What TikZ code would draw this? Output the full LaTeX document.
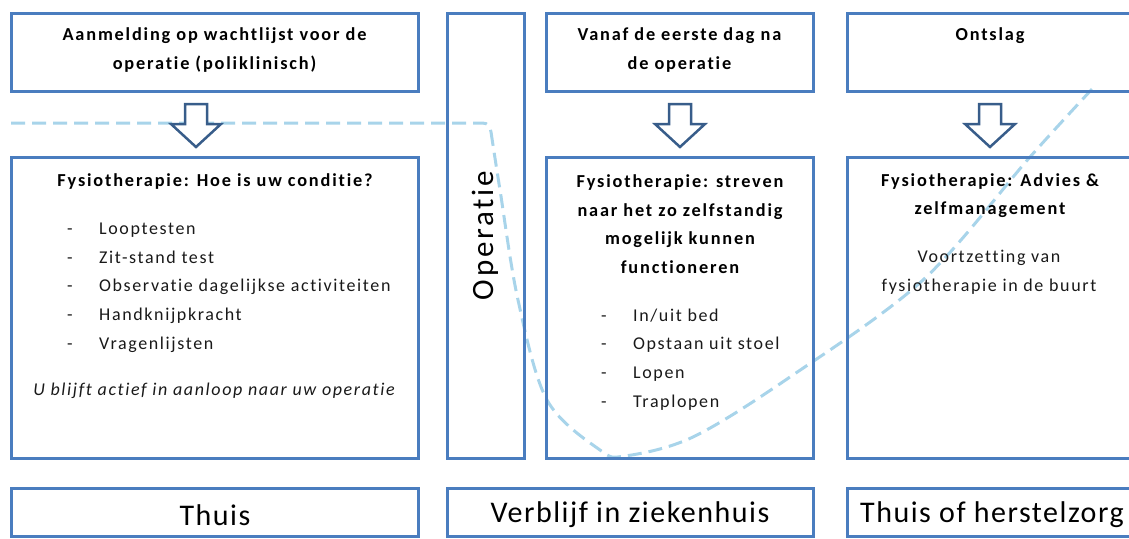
\documentclass[tikz,border=0pt]{standalone}
\usepackage{fontspec}
\setmainfont{Carlito}[Ligatures=NoCommon,Contextuals=NoAlternate,LetterSpace=9,
  BoldFeatures={LetterSpace=10}]
\newfontfamily\plekfont{Carlito}[Ligatures=NoCommon,Contextuals=NoAlternate,LetterSpace=5]
\usepackage{tikz}
\usetikzlibrary{calc}
\definecolor{BoxC}{HTML}{4A7DBF}
\definecolor{PijlC}{HTML}{385D8A}
\definecolor{LijnC}{HTML}{A8D4EA}

\begin{document}
\begin{tikzpicture}[x=1pt,y=-1pt,
  vak/.style={draw=BoxC,line width=3pt,inner sep=0pt},
  kop/.style={font=\fontsize{18.3}{28.7}\selectfont\bfseries,align=center,inner sep=0pt},
  tekst/.style={font=\fontsize{18}{28.7}\selectfont,color=black!90,inner sep=0pt},
  plek/.style={font=\plekfont\fontsize{30}{32}\selectfont,inner sep=0pt},
  pijl/.style={draw=PijlC,fill=white,line width=2.5pt,line join=miter},
  curve/.style={draw=LijnC,line width=3pt,dash pattern=on 14pt off 7pt}]
\useasboundingbox (0,0) rectangle (1129,538);
\begin{scope}
\clip (0,0) rectangle (1129,538);

% ---------- condition curve ----------
\draw[curve] (11,123) -- (482,123) .. controls (488,123) and (490,126) .. (491,132)
  plot[smooth,tension=0.55] coordinates {(491,132) (500,190) (518,300) (547,400)
  (600,450) (625,456) (693,437) (790,377) (923,280) (1030,157) (1093,88)};

% ---------- top row ----------
\node[vak,minimum width=407pt,minimum height=78pt] (aanm) at (214.5,52) {};
\node[vak,minimum width=267pt,minimum height=78pt] (vanaf) at (679.5,52) {};
\node[vak,minimum width=296pt,minimum height=78pt] (ontslag) at (995,52) {};
\node[kop] (aanmT) at ($(aanm)+(0,-2)$) {Aanmelding op wachtlijst voor de\\operatie (poliklinisch)};
\node[kop] (vanafT) at ($(vanaf)+(0,-2)$) {Vanaf de eerste dag na\\de operatie};
\node[kop] (ontslagT) at (990,36) {Ontslag};

% ---------- operation ----------
\node[vak,minimum width=77pt,minimum height=445pt] (operatie) at (485.5,235.5) {};
\node[font=\fontsize{31}{32}\selectfont,inner sep=0pt,rotate=90] (operatieT) at (operatie) {Operatie};

% ---------- middle row ----------
\node[vak,minimum width=407pt,minimum height=301pt] (conditie) at (214.5,307.5) {};
\node[vak,minimum width=267pt,minimum height=301pt] (streven) at (679.5,307.5) {};
\node[vak,minimum width=296pt,minimum height=301pt] (advies) at (995,307.5) {};

\node[kop] (conditieT) at (215,182) {Fysiotherapie: Hoe is uw conditie?};
\node[tekst,anchor=west] (testen) at (67,286)
  {\begin{tabular}{@{}p{32pt}@{}l@{}}
   - & Looptesten\\ - & Zit-stand test\\ - & Observatie dagelijkse activiteiten\\
   - & Handknijpkracht\\ - & Vragenlijsten
   \end{tabular}};
\node[tekst,font=\fontsize{18}{28.7}\selectfont\itshape] (actief) at (214,391)
  {U blijft actief in aanloop naar uw operatie};

\node[kop] (strevenT) at (680,224) {Fysiotherapie: streven\\naar het zo zelfstandig\\mogelijk kunnen\\functioneren};
\node[tekst,anchor=west] (taken) at (601,358.5)
  {\begin{tabular}{@{}p{32pt}@{}l@{}}
   - & In/uit bed\\ - & Opstaan uit stoel\\ - & Lopen\\ - & Traplopen
   \end{tabular}};

\node[kop] (adviesT) at (990,195.5) {Fysiotherapie: Advies \&\\zelfmanagement};
\node[tekst,align=center] (buurt) at (989,272) {Voortzetting van\\fysiotherapie in de buurt};

% ---------- arrows ----------
\foreach \ax in {196,680,990}
  \draw[pijl] (\ax-11,104) -- (\ax+11,104) -- (\ax+11,124) -- (\ax+25,124)
    -- (\ax,147) -- (\ax-25,124) -- (\ax-11,124) -- cycle;

% ---------- places ----------
\node[vak,minimum width=407pt,minimum height=48.5pt] (thuis) at (214.5,512.25) {};
\node[vak,minimum width=366pt,minimum height=48.5pt] (verblijf) at (630,512.25) {};
\node[vak,minimum width=296pt,minimum height=48.5pt] (herstel) at (995,512.25) {};
\node[plek] (thuisT) at (215,515) {Thuis};
\node[plek] (verblijfT) at (630,515) {Verblijf in ziekenhuis};
\node[plek] (herstelT) at (992,515) {Thuis of herstelzorg};
\end{scope}
\end{tikzpicture}
\end{document}
